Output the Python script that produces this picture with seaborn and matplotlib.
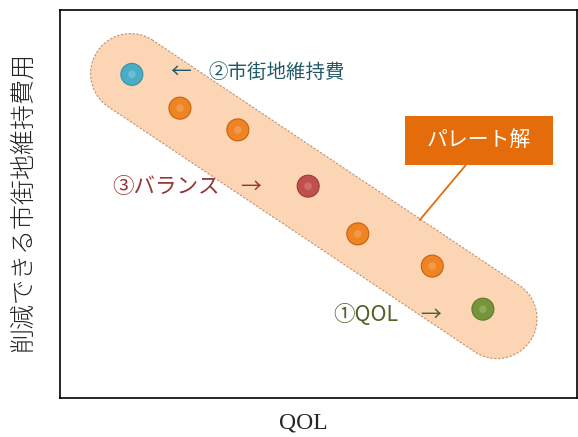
import numpy as np
import pandas as pd
import matplotlib
matplotlib.use("Agg")
import matplotlib.pyplot as plt
import matplotlib.transforms as mtransforms
from matplotlib.patches import Polygon, Rectangle
import seaborn as sns

# ---- data ----
qol = [1.39, 2.32, 3.44, 4.80, 5.76, 7.20, 8.18]
cost_saving = [8.34, 7.47, 6.91, 5.46, 4.23, 3.40, 2.29]
kind = ["cost", "other", "other", "balance", "other", "other", "qol"]
palette = {"cost": "#4BACC6", "other": "#EE8424", "balance": "#C0504D", "qol": "#77933C"}
edge_colors = {"cost": "#3A8FA8", "other": "#C8600C", "balance": "#9C3A37", "qol": "#5E7A2C"}
highlight = {"cost": "#8FD3E6", "other": "#F8B070", "balance": "#DC8A88", "qol": "#A8C070"}

label_cost = "②市街地維持費"
label_balance = "③バランス"
label_qol = "①QOL"
label_pareto = "パレート解"
xlabel = "QOL"
ylabel = "削減できる市街地維持費用"

df = pd.DataFrame({"QOL": qol, "cost": cost_saving, "kind": kind})

sns.set_style("white")
plt.rcParams["font.family"] = ["Noto Sans CJK JP", "DejaVu Sans"]

fig = plt.figure(figsize=(5.78, 4.37), dpi=100)
ax = fig.add_axes([60 / 578, 39 / 437, 517 / 578, 388 / 437])
ax.set_xlim(0, 10)
ax.set_ylim(0, 10)

# pill-shaped band (Pareto front) built in display space
fig.canvas.draw()
A = ax.transData.transform((qol[0], cost_saving[0]))
G = ax.transData.transform((qol[-1], cost_saving[-1]))
u = (G - A) / np.linalg.norm(G - A)
A2 = A - u * 1.5
B2 = G + u * 17
r = 40.0
th = np.arctan2(u[1], u[0])
t1 = np.linspace(th + np.pi / 2, th + 3 * np.pi / 2, 60)
t2 = np.linspace(th - np.pi / 2, th + np.pi / 2, 60)
pts = np.vstack([
    np.column_stack([A2[0] + r * np.cos(t1), A2[1] + r * np.sin(t1)]),
    np.column_stack([B2[0] + r * np.cos(t2), B2[1] + r * np.sin(t2)]),
])
pill = Polygon(pts, closed=True, facecolor="#FCD5B5", edgecolor="#C09070",
               linewidth=0.8, linestyle=(0, (2, 1.5)),
               transform=mtransforms.IdentityTransform(), zorder=1)
ax.add_patch(pill)

# points
sns.scatterplot(data=df, x="QOL", y="cost", hue="kind", palette=palette,
                s=250, edgecolor=[edge_colors[k] for k in kind], linewidth=0.8,
                legend=False, ax=ax, zorder=3)
sns.scatterplot(data=df, x="QOL", y="cost", hue="kind", palette=highlight,
                s=30, linewidth=0, alpha=0.5, legend=False, ax=ax, zorder=4)

# annotations
tr = ax.transAxes
ax.text(0.234, 0.840, "←", color="#215968", fontsize=15, ha="center", va="center", transform=tr)
ax.text(0.2863, 0.840, label_cost, color="#215968", fontsize=14, ha="left", va="center", transform=tr)
ax.text(0.1006, 0.5438, label_balance, color="#953735", fontsize=15.5, ha="left", va="center", transform=tr)
ax.text(0.3694, 0.5438, "→", color="#953735", fontsize=15, ha="center", va="center", transform=tr)
ax.text(0.528, 0.2139, label_qol, color="#4F6228", fontsize=15.5, ha="left", va="center", transform=tr)
ax.text(0.7176, 0.2139, "→", color="#4F6228", fontsize=15, ha="center", va="center", transform=tr)

# Pareto callout
ax.plot([0.785, 0.696], [0.6005, 0.459], color="#E46C0A", linewidth=1.3, transform=tr, zorder=5)
ax.add_patch(Rectangle((0.667, 0.6005), 0.2863, 0.1263, facecolor="#E46C0A",
                       edgecolor="none", transform=tr, zorder=6))
ax.text(0.8104, 0.665, label_pareto, color="white", fontsize=15, ha="center", va="center",
        transform=tr, zorder=7)

# axes styling
ax.set_xticks([])
ax.set_yticks([])
for sp in ax.spines.values():
    sp.set_color("black")
    sp.set_linewidth(1.2)
ax.set_xlabel(xlabel, fontsize=17, family=["Liberation Serif", "DejaVu Serif"], va="center")
ax.xaxis.set_label_coords(0.470, -0.0644)
ax.set_ylabel(ylabel, fontsize=18, color="#222222", va="center", fontweight="light")
ax.yaxis.set_label_coords(-0.0716, 0.505)

fig.savefig("out.png", dpi=100)
